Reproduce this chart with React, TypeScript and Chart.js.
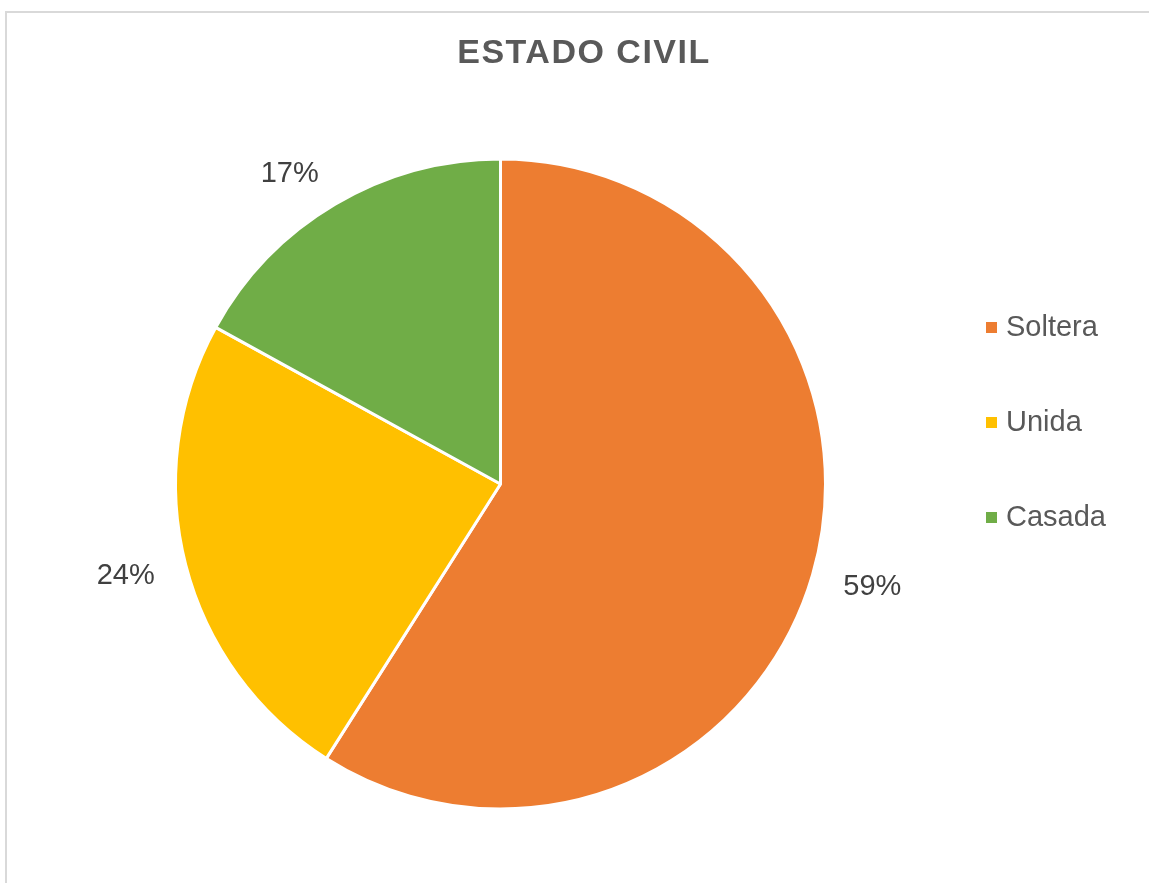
import React, { useEffect, useRef } from "react";
import { Chart, registerables } from "chart.js";

Chart.register(...registerables);

const categories = ["Soltera", "Unida", "Casada"];
const values = [59, 24, 17];
const colors = ["#ED7D31", "#FFC000", "#70AD47"];
const titleText = "ESTADO CIVIL";

const FONT = "'Liberation Sans', Arial, sans-serif";

const overlayPlugin = {
  id: "overlay",
  afterDraw(chart: any) {
    const ctx = chart.ctx;
    ctx.save();
    // title
    ctx.font = `bold 34px ${FONT}`;
    (ctx as any).letterSpacing = "1.5px";
    ctx.fillStyle = "#595959";
    ctx.textAlign = "center";
    ctx.textBaseline = "middle";
    ctx.fillText(titleText, 584, 54);
    (ctx as any).letterSpacing = "0px";

    // data labels (outside end)
    const meta = chart.getDatasetMeta(0);
    const total = values.reduce((a, b) => a + b, 0);
    ctx.font = `29px ${FONT}`;
    ctx.fillStyle = "#404040";
    meta.data.forEach((arc: any, i: number) => {
      const p = arc.getProps(["x", "y", "startAngle", "endAngle", "outerRadius"], true);
      const mid = (p.startAngle + p.endAngle) / 2;
      const d = p.outerRadius + 32;
      const cx = Math.cos(mid);
      const sy = Math.sin(mid);
      const x = p.x + cx * d;
      const y = p.y + sy * d + (sy > 0 ? 3 : -3);
      ctx.textAlign = cx < 0 ? "right" : "left";
      ctx.fillText(Math.round((values[i] / total) * 100) + "%", x, y);
    });

    // legend
    ctx.font = `29px ${FONT}`;
    ctx.textAlign = "left";
    categories.forEach((c, i) => {
      const cy = 327 + i * 95;
      ctx.fillStyle = colors[i];
      ctx.fillRect(986, cy - 5, 11, 11);
      ctx.fillStyle = "#595959";
      ctx.fillText(c, 1006, cy + 1);
    });
    ctx.restore();
  },
};

export default function App() {
  const ref = useRef<HTMLCanvasElement | null>(null);
  useEffect(() => {
    if (!ref.current) return;
    const chart = new Chart(ref.current, {
      type: "pie",
      data: {
        labels: categories,
        datasets: [
          {
            data: values,
            backgroundColor: colors,
            borderColor: "#ffffff",
            borderWidth: 3,
          },
        ],
      },
      options: {
        animation: false,
        responsive: false,
        maintainAspectRatio: false,
        events: [],
        layout: { padding: { left: 174, right: 322, top: 157, bottom: 72 } },
        plugins: {
          legend: { display: false },
          title: { display: false },
          tooltip: { enabled: false },
        },
      },
      plugins: [overlayPlugin],
    });
    return () => chart.destroy();
  }, []);

  return (
    <div
      style={{
        position: "fixed",
        left: 0,
        top: 0,
        width: 1149,
        height: 883,
        overflow: "hidden",
        background: "#ffffff",
      }}
    >
      <div
        style={{
          position: "absolute",
          left: 5,
          top: 11,
          width: 1300,
          height: 1000,
          border: "2px solid #d9d9d9",
          boxSizing: "border-box",
        }}
      />
      <canvas
        ref={ref}
        width={1149}
        height={883}
        style={{ position: "absolute", left: 0, top: 0, width: 1149, height: 883 }}
      />
    </div>
  );
}
